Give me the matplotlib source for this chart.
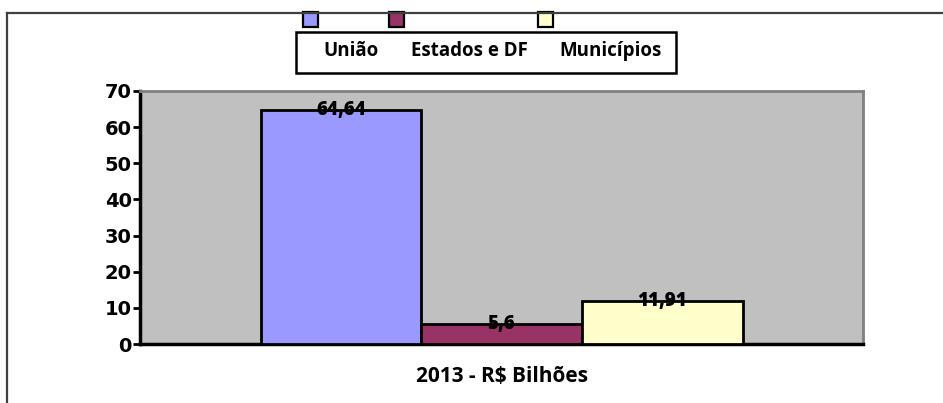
import matplotlib
matplotlib.use("Agg")
import matplotlib.pyplot as plt
from matplotlib.patches import Rectangle
from matplotlib.lines import Line2D

series = ["União", "Estados e DF", "Municípios"]
values = [64.64, 5.6, 11.91]
value_labels = ["64,64", "5,6", "11,91"]
category = "2013 - R$ Bilhões"
colors = ["#9999FF", "#993366", "#FFFFCC"]
yticks = [0, 10, 20, 30, 40, 50, 60, 70]

W, H = 943, 403
fig = plt.figure(figsize=(W / 100, H / 100), dpi=100)
fig.patch.set_facecolor("white")

def fx(px):
    return px / W

def fy(py):
    return 1 - py / H

ax = fig.add_axes([fx(140), fy(344), fx(863) - fx(140), fy(91) - fy(344)])
ax.set_facecolor("#C0C0C0")

bw = 1 / 1.5 / len(series)
for i, (v, c, lab) in enumerate(zip(values, colors, value_labels)):
    x = (i - 1) * bw
    ax.bar(x, v, width=bw, color=c, edgecolor="black", linewidth=2, zorder=3)
    ax.text(x, v, lab, ha="center", va="center", fontsize=13.5,
            fontweight="heavy", family="Open Sans", zorder=4)

ax.set_xlim(-0.5, 0.5)
ax.set_ylim(0, 70)
ax.set_yticks(yticks)
ax.set_yticklabels([str(t) for t in yticks], fontsize=14, fontweight="bold",
                   family="DejaVu Sans")
ax.tick_params(axis="y", direction="out", length=5, width=2, pad=1)
ax.set_xticks([0])
ax.set_xticklabels([category], fontsize=15, fontweight="bold", family="Open Sans")
ax.tick_params(axis="x", length=0, pad=16)

for s in ["top", "right"]:
    ax.spines[s].set_color("#808080")
    ax.spines[s].set_linewidth(2)
for s in ["left", "bottom"]:
    ax.spines[s].set_color("black")
    ax.spines[s].set_linewidth(2.5)

# outer frame
fig.add_artist(Line2D([fx(7), 1], [fy(12.5), fy(12.5)], color="#404040", lw=1.6))
fig.add_artist(Line2D([fx(7), fx(7)], [fy(12.5), 0], color="#404040", lw=1.6))

# legend box
fig.add_artist(Rectangle((fx(296), fy(73)), fx(676) - fx(296), fy(32) - fy(73),
                         facecolor="white", edgecolor="black", lw=1.8,
                         transform=fig.transFigure))
marker_x = [303, 389, 538]
text_x = [323, 411, 559]
for mx, tx, c, name in zip(marker_x, text_x, colors, series):
    fig.add_artist(Rectangle((fx(mx), fy(27)), fx(15), fy(12) - fy(27),
                             facecolor=c, edgecolor="black", lw=1.6,
                             transform=fig.transFigure))
    fig.text(fx(tx), fy(51), name, ha="left", va="center", fontsize=13.5,
             fontweight="bold", family="Open Sans")

fig.savefig("out.png", dpi=100)
